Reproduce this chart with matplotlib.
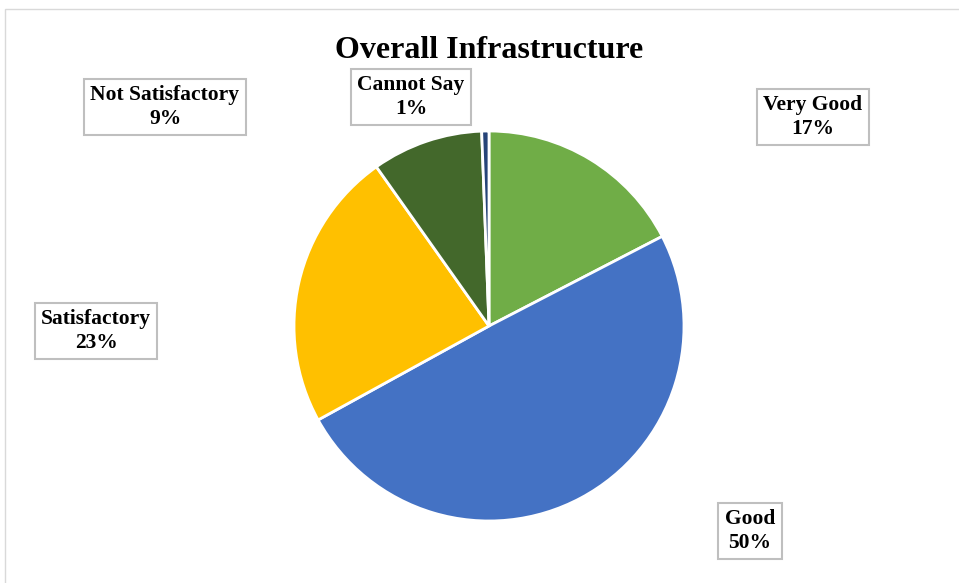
import matplotlib
matplotlib.use("Agg")
import matplotlib.pyplot as plt
from matplotlib.patches import Rectangle

categories = ["Very Good", "Good", "Satisfactory", "Not Satisfactory", "Cannot Say"]
values = [17.4, 49.6, 23.2, 9.2, 0.6]
colors = ["#70AD47", "#4472C4", "#FFC000", "#43682B", "#264478"]
title = "Overall Infrastructure"

# label box centers in pixels (layout)
label_pos = [(813, 117), (750, 531), (96, 331), (165, 107), (411, 97)]

W, H = 959, 583
fig = plt.figure(figsize=(W / 100, H / 100), dpi=100)
fig.patch.set_facecolor("white")

# outer chart frame
fig.patches.append(Rectangle((5 / W, -0.01), 1.0, (H - 9) / H + 0.01, transform=fig.transFigure,
                             fill=False, edgecolor="#D9D9D9", linewidth=1.0))

cx, cy, r = 489, 326, 195
ax = fig.add_axes([(cx - r) / W, (H - cy - r) / H, 2 * r / W, 2 * r / H])
ax.pie(values, colors=colors, startangle=90, counterclock=False, radius=1,
       wedgeprops=dict(edgecolor="white", linewidth=2))
ax.set_xlim(-1.0, 1.0)
ax.set_ylim(-1.0, 1.0)
ax.axis("off")

font = "Liberation Serif"
fig.text(489 / W, 1 - 50 / H, title, ha="center", va="center", fontsize=23,
         fontweight="bold", family=font)

for cat, v, (px, py) in zip(categories, values, label_pos):
    fig.text(px / W, 1 - py / H, f"{cat}\n{round(v)}%", ha="center", va="center",
             fontsize=15.5, fontweight="bold", family=font, linespacing=1.25,
             bbox=dict(boxstyle="square,pad=0.3", facecolor="white",
                       edgecolor="#BFBFBF", linewidth=1.5))

fig.savefig("out.png", dpi=100, facecolor="white")
